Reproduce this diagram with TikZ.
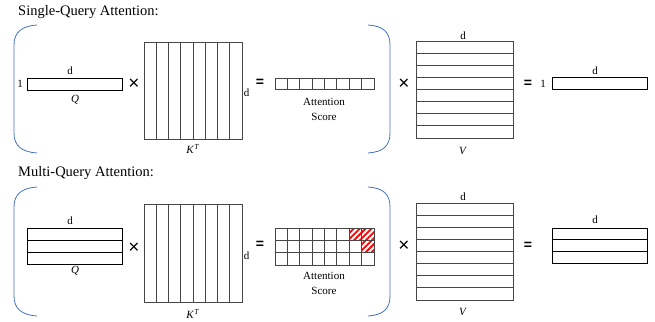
\documentclass[tikz,border=0pt]{standalone}
\usepackage{fontspec}
\setmainfont{Liberation Serif}
\newfontfamily\opfont{Liberation Sans}
\usetikzlibrary{patterns.meta}
\definecolor{parenblue}{RGB}{68,114,196}
\definecolor{gridgray}{RGB}{70,70,70}

\begin{document}
\begin{tikzpicture}[x=1pt,y=-1pt,
  lbl/.style={inner sep=0pt,font=\fontsize{11}{12}\selectfont},
  op/.style={inner sep=0pt,font=\opfont\fontsize{19}{19}\selectfont},
  eqs/.style={inner sep=0pt,font=\opfont\bfseries\fontsize{14}{14}\selectfont},
  ttl/.style={inner sep=0pt,anchor=west,font=\fontsize{14.5}{16}\selectfont},
  mat/.style={draw=gridgray,line width=0.9pt},
  vec/.style={draw=black,line width=0.9pt},
  paren/.style={draw=parenblue,line width=0.8pt},
  hatch/.style={pattern={Lines[angle=45,distance=4.2pt,line width=1.8pt]},pattern color=red}]
\useasboundingbox (0,0) rectangle (655,321);

% single-query
\node[ttl] (title1) at (18,12) {Single-Query Attention:};
\draw[paren] (37,25) .. controls (22,26) and (14,32) .. (14,45) -- (14,133)
  .. controls (14,146) and (22,152) .. (37,153);
\draw[paren] (368,25) .. controls (383,26) and (390,32) .. (390,45) -- (390,133)
  .. controls (390,146) and (383,152) .. (368,153);

\draw[vec] (27,78) rectangle (122,90);
\node[lbl] (one1) at (20,84) {1};
\node[lbl] (dq1) at (70,71) {d};
\node[lbl] (q1) at (75,100) {\textit{Q}};
\node[op] (times1) at (134,84) {×};

\draw[mat] (144,42) rectangle (242,139);
\foreach \i in {1,...,7}
  \draw[mat] (144+12.25*\i,42) -- (144+12.25*\i,139);
\node[lbl] (dk1) at (246.5,93) {d};
\node[lbl] (k1) at (193,149) {\textit{K}\textsuperscript{\textit{T}}};
\node[eqs] (eq1) at (260,83) {=};

\draw[mat] (275,78) rectangle (374,89);
\foreach \i in {1,...,7}
  \draw[mat] (275+12.375*\i,78) -- (275+12.375*\i,89);
\node[lbl] (att1) at (324,102) {Attention};
\node[lbl] (sc1) at (324,117) {Score};

\node[op] (times2) at (404,84) {×};
\draw[mat] (416,41) rectangle (513,138);
\foreach \i in {1,...,7}
  \draw[mat] (416,41+12.125*\i) -- (513,41+12.125*\i);
\node[lbl] (dv1) at (463,36) {d};
\node[lbl] (v1) at (463,151) {\textit{V}};

\node[eqs] (eq2) at (528,84) {=};
\node[lbl] (one2) at (543,84) {1};
\draw[vec] (552,77) rectangle (647,89);
\node[lbl] (do1) at (595,71) {d};

% multi-query
\node[ttl] (title2) at (18,173) {Multi-Query Attention:};
\draw[paren] (37,187) .. controls (22,188) and (14,194) .. (14,207) -- (14,296)
  .. controls (14,309) and (22,315) .. (37,316);
\draw[paren] (368,187) .. controls (383,188) and (390,194) .. (390,207) -- (390,296)
  .. controls (390,309) and (383,315) .. (368,316);

\draw[vec] (27,228) rectangle (122,264);
\foreach \i in {1,2}
  \draw[vec] (27,228+12*\i) -- (122,228+12*\i);
\node[lbl] (dq2) at (70,221) {d};
\node[lbl] (q2) at (75,271) {\textit{Q}};
\node[op] (times3) at (134,248) {×};

\draw[mat] (144,204) rectangle (242,302);
\foreach \i in {1,...,7}
  \draw[mat] (144+12.25*\i,204) -- (144+12.25*\i,302);
\node[lbl] (dk2) at (246.5,256) {d};
\node[lbl] (k2) at (193,314) {\textit{K}\textsuperscript{\textit{T}}};
\node[eqs] (eq3) at (260,245) {=};

\fill[hatch] (275+12.375*6,228) rectangle (374,240.33);
\fill[hatch] (275+12.375*7,240.33) rectangle (374,252.67);
\draw[mat] (275,228) rectangle (374,265);
\foreach \i in {1,...,7}
  \draw[mat] (275+12.375*\i,228) -- (275+12.375*\i,265);
\foreach \i in {1,2}
  \draw[mat] (275,228+12.33*\i) -- (374,228+12.33*\i);
\node[lbl] (att2) at (324,276) {Attention};
\node[lbl] (sc2) at (324,291) {Score};

\node[op] (times4) at (404,246) {×};
\draw[mat] (416,203) rectangle (513,300);
\foreach \i in {1,...,7}
  \draw[mat] (416,203+12.125*\i) -- (513,203+12.125*\i);
\node[lbl] (dv2) at (463,197) {d};
\node[lbl] (v2) at (463,312) {\textit{V}};

\node[eqs] (eq4) at (528,246) {=};
\draw[vec] (552,228) rectangle (647,263);
\foreach \i in {1,2}
  \draw[vec] (552,228+11.67*\i) -- (647,228+11.67*\i);
\node[lbl] (do2) at (595,220) {d};
\end{tikzpicture}
\end{document}
